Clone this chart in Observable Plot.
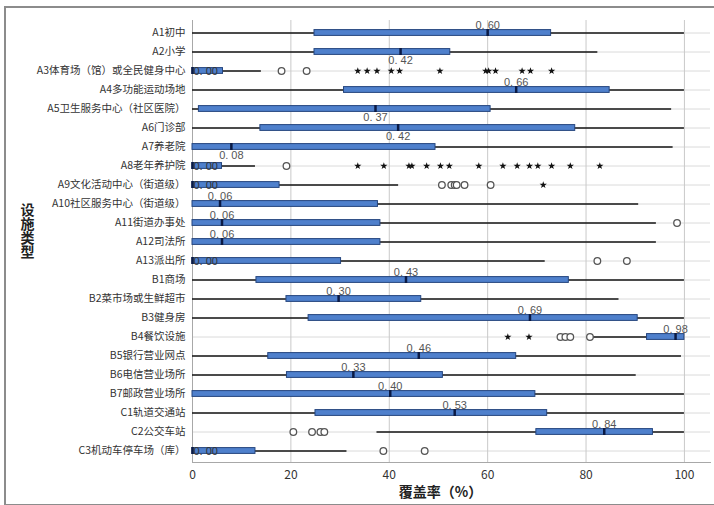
<!DOCTYPE html>
<html><head><meta charset="utf-8">
<script src="https://cdn.jsdelivr.net/npm/d3@7"></script>
<script src="https://cdn.jsdelivr.net/npm/@observablehq/plot@0.6"></script>
<style>
body{margin:0;background:#fff;}
#wrap{position:relative;width:714px;height:505px;overflow:hidden;}
#border{position:absolute;left:4px;top:6px;width:800px;height:496px;border-top:2px solid #8c8c8c;border-left:2px solid #8c8c8c;border-bottom:2px solid #8c8c8c;pointer-events:none;}
svg{display:block;}
.ytitle text{writing-mode:vertical-rl;text-orientation:upright;}
</style></head><body><div id="wrap"><div id="border"></div></div>
<script>
const categories = ["A1初中","A2小学","A3体育场（馆）或全民健身中心","A4多功能运动场地","A5卫生服务中心（社区医院）","A6门诊部","A7养老院","A8老年养护院","A9文化活动中心（街道级）","A10社区服务中心（街道级）","A11街道办事处","A12司法所","A13派出所","B1商场","B2菜市场或生鲜超市","B3健身房","B4餐饮设施","B5银行营业网点","B6电信营业场所","B7邮政营业场所","C1轨道交通站","C2公交车站","C3机动车停车场（库）"];
const whiskerLow  = [0,0,0,0,0,0,0,0,0,0,0,0,0,0,0,0,81.5,0,0,0,0,37.5,0];
const q1          = [24.8,24.8,0,30.8,1.3,13.8,0,0,0,0,0,0,0,13.0,19.1,23.6,92.4,15.4,19.2,0,25.0,69.9,0];
const median      = [60,42.3,0,65.8,37.2,41.8,7.9,0,0,5.6,6.0,6.0,0,43.4,29.7,68.6,98.2,46.0,32.7,40.2,53.3,83.7,0];
const q3          = [72.9,52.4,6.2,84.8,60.6,77.8,49.4,6.0,17.7,37.7,38.2,38.2,30.2,76.5,46.5,90.5,100,65.8,50.9,69.7,72.1,93.6,12.8];
const whiskerHigh = [100,82.4,14.0,100,97.4,100,97.7,12.8,41.9,90.7,94.3,94.3,71.7,100,86.7,100,100,99.4,90.2,100,100,100,31.4];
const medianLabels = ["0.60","0.42","0.00","0.66","0.37","0.42","0.08","0.00","0.00","0.06","0.06","0.06","0.00","0.43","0.30","0.69","0.98","0.46","0.33","0.40","0.53","0.84","0.00"];
const labelsBelow = ["A2小学","A5卫生服务中心（社区医院）","A6门诊部","A7养老院"];
// outliers: [category index, values]
const circleOutliers = [
  [2, [18.1, 23.2]],
  [7, [19.1]],
  [8, [50.7, 52.6, 53.3, 53.7, 55.3, 60.6]],
  [10, [98.5]],
  [12, [82.3, 88.3]],
  [16, [74.8, 75.8, 76.8, 80.8]],
  [21, [20.5, 24.3, 26.0, 26.8]],
  [22, [38.8, 47.2]]
];
const starOutliers = [
  [2, [33.6, 35.5, 37.5, 40.4, 42.1, 50.3, 59.6, 60.2, 61.6, 67.0, 68.7, 73.0]],
  [7, [33.6, 38.9, 44.0, 44.6, 47.6, 50.4, 52.2, 58.2, 63.1, 66.0, 68.5, 70.2, 73.0, 76.8, 82.8]],
  [8, [71.3]],
  [16, [64.1, 68.4]]
];
const xTicks = [0, 20, 40, 60, 80, 100];
const xTitle = "覆盖率（%）";
const yTitle = "设施类型";

const rows = categories.map((c, i) => ({cat: c, lo: whiskerLow[i], q1: q1[i], med: median[i], q3: q3[i], hi: whiskerHigh[i], label: medianLabels[i].replace(".", ". ")}));
const flat = list => list.flatMap(([i, vals]) => vals.map(v => ({cat: categories[i], v})));
const circles = flat(circleOutliers);
const stars = flat(starOutliers);
const zeroRows = rows.filter(d => d.med === 0);
const belowRows = rows.filter(d => d.med !== 0 && labelsBelow.includes(d.cat));
const aboveRows = rows.filter(d => d.med !== 0 && !labelsBelow.includes(d.cat));

const chart = Plot.plot({
  width: 714, height: 505,
  marginTop: 20, marginBottom: 43, marginLeft: 192, marginRight: 4,
  style: {fontFamily: '"Noto Sans CJK SC", "Noto Sans", sans-serif', background: "transparent", color: "#333"},
  x: {domain: [0, 105.3]},
  y: {domain: categories, type: "band", padding: 0},
  marks: [
    Plot.ruleY(categories, {stroke: "#dadada", strokeWidth: 1}),
    Plot.ruleX(xTicks, {stroke: "#c9c9c9", strokeWidth: 1}),
    Plot.frame({anchor: "bottom", stroke: "#a8a8a8"}),
    Plot.ruleX([0], {stroke: "#a8a8a8"}),
    Plot.ruleY(rows, {y: "cat", x1: "lo", x2: "hi", stroke: "#151515", strokeWidth: 1.6}),
    Plot.barX(rows, {y: "cat", x1: "q1", x2: "q3", fill: "#4f80cc", stroke: "#25457e", strokeWidth: 1, insetTop: 6.6, insetBottom: 6.6}),
    Plot.tickX(rows, {y: "cat", x: "med", stroke: "#0b1a44", strokeWidth: 2.5, insetTop: 6, insetBottom: 6}),
    Plot.text(aboveRows, {x: "med", y: "cat", text: "label", dy: -8, fontSize: 11, fill: "#555", fontFamily: '"Liberation Sans", sans-serif'}),
    Plot.text(belowRows, {x: "med", y: "cat", text: "label", dy: 8, fontSize: 11, fill: "#555", fontFamily: '"Liberation Sans", sans-serif'}),
    Plot.text(zeroRows, {x: "med", y: "cat", text: "label", dx: 1, textAnchor: "start", fontSize: 11, fill: "#333", fontFamily: '"Liberation Sans", sans-serif'}),
    Plot.dot(circles, {x: "v", y: "cat", r: 3.3, stroke: "#555", fill: "white", strokeWidth: 1.3}),
    Plot.dot(stars, {x: "v", y: "cat", symbol: "star", r: 2.3, fill: "#111"}),
    Plot.axisX({ticks: xTicks, tickSize: 0, tickPadding: 8, fontSize: 12, label: null, fill: "#333"}),
    Plot.axisY({tickSize: 0, tickPadding: 7, fontSize: 10.5, label: null, fill: "#333"}),
    Plot.text([yTitle], {text: d => d, className: "ytitle", frameAnchor: "left", dx: -165, dy: -43, fontSize: 14, fontWeight: "bold", fill: "#222"}),
    Plot.text([xTitle], {text: d => d, frameAnchor: "bottom", dy: 34, dx: -11, fontSize: 14, fontWeight: "bold", fill: "#222"})
  ]
});
document.getElementById("wrap").appendChild(chart);
</script></body></html>
